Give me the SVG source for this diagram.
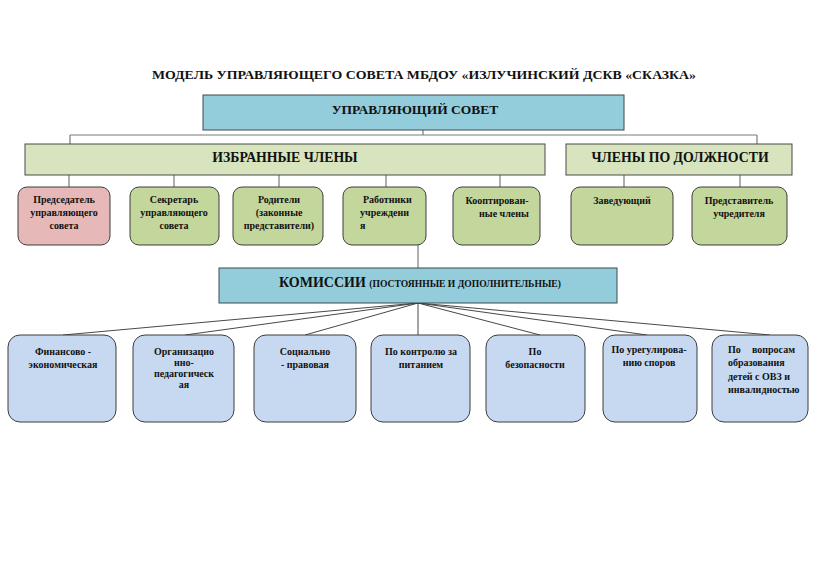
<svg xmlns="http://www.w3.org/2000/svg" width="820" height="580" viewBox="0 0 820 580">
<style>
text{font-family:"Liberation Serif","Times New Roman",serif;font-weight:bold;fill:#111;}
.c{text-anchor:middle;}
.s{font-size:10px;}
.blue{fill:#93CDDC;stroke:#3b4a50;stroke-width:1;}
.lg{fill:#D7E4BD;stroke:#4a4a4a;stroke-width:1;}
.g{fill:#C3D69B;stroke:#3d3d3d;stroke-width:1;}
.p{fill:#E6B9B8;stroke:#3d3d3d;stroke-width:1;}
.b{fill:#C6D9F1;stroke:#3d3d3d;stroke-width:1;}
.ln{stroke:#7a7a7a;stroke-width:1.2;fill:none;}
.fan{stroke:#333;stroke-width:0.9;fill:none;}
</style>
<rect width="820" height="580" fill="#fff"/>
<text x="424" y="79" class="c" font-size="11.5" textLength="544" lengthAdjust="spacingAndGlyphs">МОДЕЛЬ УПРАВЛЯЮЩЕГО СОВЕТА МБДОУ «ИЗЛУЧИНСКИЙ ДСКВ «СКАЗКА»</text>
<g id="connectors">
<path class="ln" d="M423 130V135M70 135H757M70 135V144M757 135V144"/>
<path class="ln" d="M69 175V187M174 175V187M279 175V187M386 175V187M500 175V187M624 175V187M740 175V187"/>
<path class="ln" d="M418 245V268"/>
<path class="fan" d="M418 303L63 335M418 303L185 335M418 303L305 335M418 303V335M418 303L540 335M418 303L647 335M418 303L770 335"/>
</g>
<g id="council"><rect class="blue" x="203" y="95" width="421" height="35"/><text x="415" y="114" class="c" font-size="13.5">УПРАВЛЯЮЩИЙ СОВЕТ</text></g>
<g id="elected"><rect class="lg" x="25" y="144" width="520" height="31"/><text x="285" y="162" class="c" font-size="13.8">ИЗБРАННЫЕ ЧЛЕНЫ</text></g>
<g id="exofficio"><rect class="lg" x="566" y="144" width="226" height="31"/><text x="680" y="162" class="c" font-size="13.8">ЧЛЕНЫ ПО ДОЛЖНОСТИ</text></g>
<g id="chair"><rect class="p" x="18" y="187" width="92" height="58" rx="9"/><text class="c s" x="64" y="203">Председатель</text><text class="c s" x="64" y="216">управляющего</text><text class="c s" x="64" y="229">совета</text></g>
<g id="secretary"><rect class="g" x="130" y="187" width="89" height="58" rx="9"/><text class="c s" x="174" y="203">Секретарь</text><text class="c s" x="174" y="216">управляющего</text><text class="c s" x="174" y="229">совета</text></g>
<g id="parents"><rect class="g" x="233" y="187" width="90" height="58" rx="9"/><text class="c s" x="279" y="203">Родители</text><text class="c s" x="279" y="216">(законные</text><text class="c s" x="279" y="229">представители)</text></g>
<g id="staff"><rect class="g" x="343" y="187" width="83" height="58" rx="9"/><text class="s" x="363" y="203">Работники</text><text class="s" x="360" y="216">учреждени</text><text class="s" x="360" y="229">я</text></g>
<g id="coopted"><rect class="g" x="453" y="187" width="87" height="58" rx="9"/><text class="c s" x="497" y="204">Кооптирован-</text><text class="c s" x="504" y="217">ные члены</text></g>
<g id="head"><rect class="g" x="571" y="187" width="102" height="58" rx="9"/><text class="c s" x="622" y="204">Заведующий</text></g>
<g id="founder"><rect class="g" x="692" y="187" width="95" height="58" rx="9"/><text class="c s" x="739" y="204">Представитель</text><text class="c s" x="739" y="217">учредителя</text></g>
<g id="commissions"><rect class="blue" x="219" y="268" width="398" height="35"/><text x="420" y="287" class="c"><tspan font-size="14">КОМИССИИ </tspan><tspan font-size="9.6">(ПОСТОЯННЫЕ И ДОПОЛНИТЕЛЬНЫЕ)</tspan></text></g>
<g id="finance"><rect class="b" x="8" y="335" width="108" height="87" rx="12"/><text class="c s" x="63" y="355">Финансово -</text><text class="c s" x="63" y="368">экономическая</text></g>
<g id="org"><rect class="b" x="133" y="335" width="101" height="87" rx="12"/><text class="c s" x="184" y="355">Организацио</text><text class="c s" x="184" y="366">нно-</text><text class="c s" x="184" y="377">педагогическ</text><text class="c s" x="184" y="388">ая</text></g>
<g id="social"><rect class="b" x="254" y="335" width="102" height="87" rx="12"/><text class="c s" x="305" y="355">Социально</text><text class="c s" x="305" y="368">- правовая</text></g>
<g id="food"><rect class="b" x="371" y="335" width="99" height="87" rx="12"/><text class="c s" x="421" y="355">По контролю за</text><text class="c s" x="421" y="368">питанием</text></g>
<g id="safety"><rect class="b" x="486" y="335" width="99" height="87" rx="12"/><text class="c s" x="535" y="355">По</text><text class="c s" x="535" y="368">безопасности</text></g>
<g id="disputes"><rect class="b" x="603" y="335" width="94" height="87" rx="12"/><text class="c s" x="649" y="353">По урегулирова-</text><text class="c s" x="649" y="366">нию споров</text></g>
<g id="ovz"><rect class="b" x="712" y="335" width="96" height="87" rx="12"/><text class="s" x="728" y="353">По</text><text class="s" x="795" y="353" text-anchor="end">вопросам</text><text class="s" x="728" y="366">образования</text><text class="s" x="728" y="380">детей с ОВЗ и</text><text class="s" x="728" y="393">инвалидностью</text></g>
</svg>
